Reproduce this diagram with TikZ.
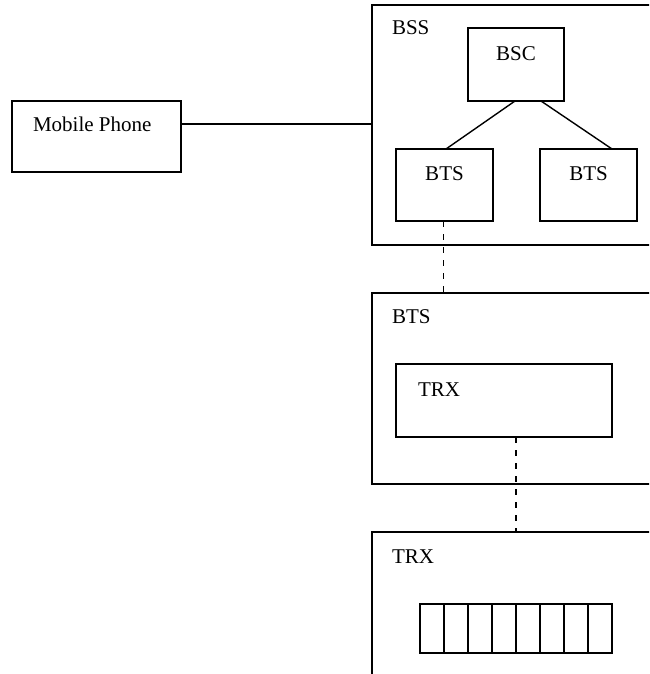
\documentclass[tikz,border=0pt]{standalone}
\usepackage{fontspec}
\setmainfont{Liberation Serif}
\begin{document}
\begin{tikzpicture}[x=1pt,y=-1pt,
  box/.style={draw, line width=1.6pt, inner sep=0pt, outer sep=0pt},
  cell/.style={draw, line width=1.4pt, inner sep=0pt, outer sep=0pt, minimum width=24pt, minimum height=49pt},
  txt/.style={inner sep=0pt, outer sep=0pt, font=\fontsize{21}{25}\selectfont},
  conn/.style={line width=1.4pt},
  dconn/.style={line width=1.4pt, dash pattern=on 6pt off 7pt}]
\useasboundingbox (0,0) rectangle (649,674);
\clip (0,0) rectangle (649,674);
% Mobile phone
\node[box, minimum width=169pt, minimum height=71pt] (mobile) at (96.5,136.5) {};
\node[txt, anchor=base west] (mobiletxt) at (33,131.5) {Mobile Phone};
% BSS container (extends past the right edge)
\node[box, minimum width=328pt, minimum height=240pt] (bss) at (536,125) {};
\node[txt, anchor=base west] (bsstxt) at (392,35) {BSS};
\node[box, minimum width=96pt, minimum height=73pt] (bsc) at (516,64.5) {};
\node[txt, anchor=base] (bsctxt) at (516,61) {BSC};
\node[box, minimum width=97pt, minimum height=72pt] (btsa) at (444.5,185) {};
\node[txt, anchor=base] (btsatxt) at (444.5,180) {BTS};
\node[box, minimum width=97pt, minimum height=72pt] (btsb) at (588.5,185) {};
\node[txt, anchor=base] (btsbtxt) at (588.5,180) {BTS};
% BTS container
\node[box, minimum width=328pt, minimum height=191pt] (bts) at (536,388.5) {};
\node[txt, anchor=base west] (btstxt) at (392,323.5) {BTS};
\node[box, minimum width=216pt, minimum height=73pt] (trx) at (504,400.5) {};
\node[txt, anchor=base west] (trxtxt) at (418,396) {TRX};
% TRX container
\node[box, minimum width=328pt, minimum height=200pt] (trxbig) at (536,632) {};
\node[txt, anchor=base west] (trxbigtxt) at (392,563.5) {TRX};
\foreach \i in {1,...,8} {
  \node[cell] (s\i) at ({432+24*(\i-1)},628.5) {};
}
% connectors
\coordinate (mp) at ([yshift=12.5pt]mobile.east);
\draw[conn] (mp) -- (mp -| bss.west);
\draw[conn] ([xshift=-1pt]bsc.south) -- ([xshift=1.5pt]btsa.north);
\draw[conn] ([xshift=25pt]bsc.south) -- ([xshift=23.5pt]btsb.north);
\draw[dconn] ([xshift=-1pt]btsa.south) -- ([xshift=-1pt]btsa.south |- bts.north);
\draw[dconn] ([xshift=12pt]trx.south) -- ([xshift=12pt]trx.south |- trxbig.north);
\end{tikzpicture}
\end{document}
